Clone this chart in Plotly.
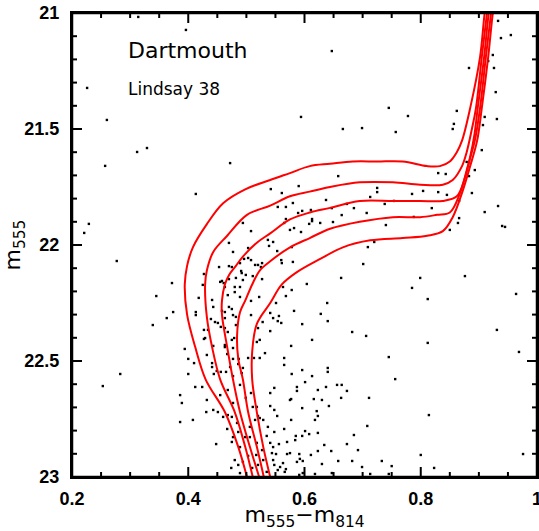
import plotly.graph_objects as go

# Isochrones (colour m555-m814, magnitude m555), main sequence -> turnoff -> SGB -> RGB
iso1_color = [0.501, 0.486, 0.463, 0.430, 0.412, 0.398, 0.394, 0.398, 0.408, 0.432, 0.460, 0.498,
              0.541, 0.575, 0.609, 0.644, 0.683, 0.725, 0.769, 0.811, 0.833, 0.850, 0.862, 0.871,
              0.885, 0.902, 0.910, 0.914]
iso1_mag = [23.00, 22.87, 22.72, 22.58, 22.44, 22.30, 22.17, 22.09, 22.01, 21.91, 21.82, 21.76,
            21.72, 21.69, 21.66, 21.65, 21.64, 21.64, 21.64, 21.66, 21.66, 21.64, 21.60, 21.55,
            21.41, 21.19, 21.00, 20.94]

iso2_color = [0.511, 0.498, 0.480, 0.455, 0.441, 0.432, 0.429, 0.432, 0.443, 0.467, 0.501, 0.541,
              0.575, 0.609, 0.644, 0.695, 0.752, 0.799, 0.838, 0.855, 0.871, 0.879, 0.888, 0.895,
              0.905, 0.914, 0.917]
iso2_mag = [23.00, 22.87, 22.72, 22.58, 22.44, 22.31, 22.17, 22.11, 22.03, 21.96, 21.87, 21.83,
            21.79, 21.77, 21.75, 21.73, 21.73, 21.74, 21.74, 21.72, 21.66, 21.60, 21.50, 21.41,
            21.19, 21.00, 20.94]

iso3_color = [0.522, 0.506, 0.489, 0.477, 0.467, 0.458, 0.458, 0.463, 0.470, 0.482, 0.494, 0.518,
              0.541, 0.575, 0.609, 0.644, 0.695, 0.752, 0.799, 0.838, 0.862, 0.876, 0.885, 0.892,
              0.898, 0.909, 0.917, 0.921]
iso3_mag = [23.00, 22.87, 22.72, 22.58, 22.44, 22.30, 22.24, 22.17, 22.13, 22.09, 22.05, 21.99,
            21.95, 21.89, 21.86, 21.84, 21.81, 21.81, 21.81, 21.81, 21.79, 21.71, 21.62, 21.53,
            21.41, 21.19, 21.00, 20.94]

iso4_color = [0.530, 0.518, 0.503, 0.494, 0.486, 0.484, 0.489, 0.498, 0.510, 0.523, 0.541, 0.575,
              0.609, 0.644, 0.695, 0.752, 0.799, 0.828, 0.850, 0.867, 0.881, 0.893, 0.902, 0.912,
              0.921, 0.924]
iso4_mag = [23.00, 22.87, 22.72, 22.58, 22.49, 22.39, 22.29, 22.24, 22.17, 22.11, 22.07, 22.01,
            21.97, 21.93, 21.90, 21.88, 21.88, 21.87, 21.86, 21.78, 21.66, 21.55, 21.41, 21.19,
            21.00, 20.94]

iso5_color = [0.541, 0.529, 0.518, 0.510, 0.510, 0.518, 0.541, 0.561, 0.585, 0.627, 0.666, 0.713,
              0.769, 0.811, 0.838, 0.855, 0.873, 0.885, 0.897, 0.905, 0.916, 0.924, 0.928]
iso5_mag = [23.00, 22.87, 22.72, 22.58, 22.46, 22.34, 22.25, 22.17, 22.12, 22.06, 22.01, 21.98,
            21.97, 21.96, 21.94, 21.88, 21.76, 21.66, 21.55, 21.41, 21.19, 21.00, 20.94]

isochrones = [(iso1_color, iso1_mag), (iso2_color, iso2_mag), (iso3_color, iso3_mag),
              (iso4_color, iso4_mag), (iso5_color, iso5_mag)]

# Photometry of Lindsay 38 stars
star_color = [
    0.314, 0.396, 0.226, 0.260, 0.312, 0.329, 0.257, 0.472, 0.413, 0.229, 0.221, 0.277, 0.345, 0.372,
    0.363, 0.339, 0.283, 0.253, 0.374, 0.394, 0.400, 0.410, 0.400, 0.412, 0.424, 0.386, 0.389, 0.408,
    0.431, 0.443, 0.448, 0.386,
    0.933, 0.955, 0.938, 0.647, 0.924, 0.916, 0.883, 0.926, 0.929, 0.745, 0.594, 0.778, 0.862, 0.910,
    0.931, 0.857, 0.666, 0.699, 0.757, 0.855, 0.907, 0.905, 0.893, 0.879, 0.658, 0.830, 0.843, 0.883,
    0.590, 0.725, 0.725, 0.713, 0.804, 0.785, 0.830, 0.845, 0.888, 0.866, 0.542, 0.561, 0.637, 0.580,
    0.554, 0.568, 0.611, 0.647, 0.673, 0.685, 0.738, 0.754, 0.819, 0.910, 0.933, 0.596, 0.589, 0.568,
    0.565, 0.613, 0.613, 0.664, 0.707, 0.788, 0.608, 0.627, 0.649, 0.740, 0.866, 0.864, 0.850, 0.940,
    0.945, 0.582, 0.575, 0.594, 0.546, 0.553, 0.578, 0.709, 0.720, 0.701, 0.560, 0.561, 0.580,
    0.494, 0.508, 0.470, 0.477, 0.537, 0.539, 0.503, 0.503, 0.508, 0.496, 0.489, 0.515, 0.520, 0.527,
    0.525, 0.453, 0.470, 0.475, 0.491, 0.492, 0.499, 0.482, 0.470, 0.427, 0.455, 0.458, 0.461, 0.494,
    0.511, 0.527,
    0.425, 0.418, 0.441, 0.443, 0.413, 0.413, 0.439, 0.446, 0.451, 0.434, 0.429, 0.432, 0.443, 0.441,
    0.441, 0.449, 0.444, 0.456, 0.465, 0.477, 0.468, 0.463, 0.480, 0.489, 0.470, 0.475, 0.458, 0.463,
    0.463, 0.477, 0.482, 0.456, 0.463, 0.468, 0.482, 0.463, 0.463, 0.475, 0.479, 0.477, 0.467, 0.477,
    0.487, 0.472, 0.486, 0.494, 0.492, 0.503, 0.513, 0.523, 0.532, 0.518, 0.523, 0.528, 0.520, 0.508,
    0.508, 0.522, 0.480, 0.489, 0.427, 0.427,
    0.663, 0.799, 0.876, 0.604, 0.785, 0.812, 0.964, 0.563, 0.578, 0.568, 0.551, 0.639, 0.582, 0.628,
    0.640, 0.541, 0.546, 0.556, 0.554, 0.560, 0.596, 0.541, 0.682, 0.706, 0.931, 0.613, 0.812, 0.969,
    0.577, 0.565, 0.565, 0.745, 0.596, 0.578, 0.613, 0.640, 0.640, 0.756, 0.601, 0.548, 0.541, 0.587,
    0.587, 0.577, 0.575, 0.623, 0.637, 0.656, 0.664, 0.673, 0.616, 0.630, 0.663, 0.711, 0.596, 0.541,
    0.548, 0.553, 0.642, 0.621, 0.623, 0.618, 0.577, 0.814, 0.548, 0.565, 0.708, 0.584, 0.585, 0.596,
    0.601, 0.608, 0.623, 0.541, 0.556, 0.546, 0.634, 0.673, 0.685, 0.692, 0.544, 0.551, 0.570, 0.575,
    0.591, 0.611, 0.623, 0.646, 0.800, 0.976, 0.587, 0.592, 0.597, 0.658, 0.682, 0.733, 0.548, 0.558,
    0.568, 0.630, 0.699, 0.750, 0.823, 0.554, 0.597, 0.618, 0.647, 0.713, 0.745, 0.591,
    0.460, 0.468, 0.484, 0.486, 0.498, 0.506, 0.515, 0.518, 0.520, 0.523, 0.529, 0.537, 0.535, 0.546,
    0.535, 0.517, 0.510, 0.503, 0.494, 0.489, 0.477, 0.467, 0.475, 0.518, 0.527, 0.520, 0.570, 0.563,
    0.566, 0.474, 0.486, 0.489, 0.480, 0.451, 0.475, 0.506, 0.511, 0.508, 0.529,
    0.455, 0.468, 0.489, 0.499, 0.477, 0.432,
]
star_mag = [
    21.017, 21.073, 21.323, 21.461, 21.599, 21.582, 21.659, 21.647, 21.780, 21.909, 21.948, 22.069,
    22.220, 22.164, 22.315, 22.345, 22.556, 22.608, 22.289, 22.448, 22.491, 22.509, 22.556, 22.612,
    22.612, 22.647, 22.681, 22.754, 22.720, 22.711, 22.858, 22.763,
    21.034, 21.095, 21.108, 21.164, 21.181, 21.207, 21.237, 21.237, 21.341, 21.409, 21.448, 21.444,
    21.422, 21.448, 21.457, 21.478, 21.500, 21.496, 21.513, 21.500, 21.483, 21.591, 21.677, 21.642,
    21.703, 21.690, 21.694, 21.703, 21.746, 21.754, 21.772, 21.793, 21.767, 21.780, 21.772, 21.784,
    21.776, 21.810, 21.759, 21.776, 21.806, 21.819, 21.836, 21.836, 21.849, 21.841, 21.823, 21.841,
    21.823, 21.810, 21.841, 21.858, 21.832, 21.853, 21.862, 21.888, 21.905, 21.888, 21.897, 21.871,
    21.862, 21.879, 21.909, 21.905, 21.901, 21.914, 21.884, 21.905, 21.935, 21.918, 21.922, 21.927,
    21.935, 21.944, 21.987, 22.026, 22.009, 22.009, 21.987, 22.082, 22.065, 22.078, 22.073,
    21.905, 21.940, 21.991, 22.030, 21.978, 22.004, 22.013, 22.056, 22.065, 22.060, 22.078, 22.086,
    22.086, 22.078, 22.095, 22.095, 22.091, 22.095, 22.112, 22.121, 22.129, 22.142, 22.147, 22.125,
    22.159, 22.155, 22.164, 22.151, 22.134, 22.147,
    22.172, 22.228, 22.237, 22.267, 22.289, 22.302, 22.319, 22.332, 22.336, 22.366, 22.401, 22.474,
    22.435, 22.509, 22.526, 22.543, 22.556, 22.547, 22.547, 22.565, 22.216, 22.181, 22.181, 22.181,
    22.267, 22.276, 22.284, 22.289, 22.315, 22.302, 22.310, 22.353, 22.358, 22.375, 22.345, 22.431,
    22.440, 22.409, 22.401, 22.444, 22.470, 22.491, 22.491, 22.526, 22.513, 22.530, 22.552, 22.487,
    22.487, 22.487, 22.466, 22.418, 22.409, 22.332, 22.358, 22.302, 22.241, 22.224, 22.203, 22.224,
    22.366, 22.405,
    22.142, 22.142, 22.134, 22.168, 22.185, 22.233, 22.211, 22.181, 22.194, 22.220, 22.250, 22.250,
    22.284, 22.297, 22.328, 22.293, 22.315, 22.306, 22.328, 22.336, 22.341, 22.371, 22.375, 22.392,
    22.366, 22.409, 22.422, 22.461, 22.435, 22.487, 22.517, 22.483, 22.539, 22.556, 22.565, 22.530,
    22.547, 22.578, 22.591, 22.616, 22.638, 22.612, 22.629, 22.664, 22.668, 22.625, 22.612, 22.603,
    22.603, 22.629, 22.664, 22.668, 22.659, 22.659, 22.703, 22.694, 22.711, 22.737, 22.694, 22.716,
    22.737, 22.754, 22.754, 22.733, 22.806, 22.793, 22.780, 22.841, 22.823, 22.823, 22.802, 22.815,
    22.810, 22.853, 22.858, 22.871, 22.862, 22.858, 22.819, 22.884, 22.897, 22.901, 22.901, 22.897,
    22.901, 22.905, 22.888, 22.888, 22.905, 22.901, 22.935, 22.922, 22.931, 22.931, 22.931, 22.931,
    22.948, 22.957, 22.966, 22.944, 22.957, 22.953, 22.961, 22.970, 22.983, 22.987, 22.983, 22.987,
    22.987, 22.991,
    22.741, 22.733, 22.767, 22.806, 22.828, 22.828, 22.754, 22.698, 22.737, 22.746, 22.754, 22.784,
    22.823, 22.927, 22.978, 22.905, 22.961, 22.909, 22.935, 22.871, 22.828, 22.793, 22.849, 22.853,
    22.884, 22.948, 22.849, 22.940, 22.978, 22.961, 22.948, 22.983, 22.927, 22.720, 22.741, 22.784,
    22.698, 22.638, 22.927,
    22.647, 22.625, 22.603, 22.659, 22.681, 22.668,
]

x_ticks = [0.2, 0.4, 0.6, 0.8, 1.0]
x_tick_text = ["0.2", "0.4", "0.6", "0.8", "1"]
x_minor_ticks = [0.25, 0.3, 0.35, 0.45, 0.5, 0.55, 0.65, 0.7, 0.75, 0.85, 0.9, 0.95]
y_ticks = [21, 21.5, 22, 22.5, 23]
y_tick_text = ["21", "21.5", "22", "22.5", "23"]
y_minor_ticks = [21.1, 21.2, 21.3, 21.4, 21.6, 21.7, 21.8, 21.9,
                 22.1, 22.2, 22.3, 22.4, 22.6, 22.7, 22.8, 22.9]

x_range = [0.2, 1.0]
y_range = [23, 21]

WIDTH, HEIGHT = 539, 531
MARGIN = dict(l=72, r=2, t=13, b=54)
MAJOR_LEN = 10   # pixels
MINOR_LEN = 5    # pixels

# Size of one screen pixel in axis units, for the inward tick marks
plot_w = WIDTH - MARGIN["l"] - MARGIN["r"]
plot_h = HEIGHT - MARGIN["t"] - MARGIN["b"]
dx_px = (x_range[1] - x_range[0]) / plot_w
dy_px = (y_range[0] - y_range[1]) / plot_h
x_lo, x_hi = x_range
y_bottom, y_top = y_range

fig = go.Figure()

fig.add_trace(go.Scatter(
    x=star_color, y=star_mag, mode="markers",
    marker=dict(symbol="square", size=2.4, color="black", line=dict(width=0)),
    hoverinfo="skip", showlegend=False,
))

for cx, my in isochrones:
    fig.add_trace(go.Scatter(
        x=cx, y=my, mode="lines",
        line=dict(color="#ff0000", width=2, shape="spline", smoothing=1.0),
        hoverinfo="skip", showlegend=False,
    ))

# Inward tick marks on all four sides
tick_x, tick_y = [], []
for vals, length in ((x_ticks, MAJOR_LEN), (x_minor_ticks, MINOR_LEN)):
    for v in vals:
        tick_x += [v, v, None, v, v, None]
        tick_y += [y_bottom, y_bottom - length * dy_px, None, y_top, y_top + length * dy_px, None]
for vals, length in ((y_ticks, MAJOR_LEN), (y_minor_ticks, MINOR_LEN)):
    for v in vals:
        tick_x += [x_lo, x_lo + length * dx_px, None, x_hi, x_hi - length * dx_px, None]
        tick_y += [v, v, None, v, v, None]
fig.add_trace(go.Scatter(
    x=tick_x, y=tick_y, mode="lines", line=dict(color="#000000", width=2),
    hoverinfo="skip", showlegend=False, cliponaxis=False,
))

# Plot frame
fig.add_trace(go.Scatter(
    x=[x_lo, x_hi, x_hi, x_lo, x_lo], y=[y_top, y_top, y_bottom, y_bottom, y_top],
    mode="lines", line=dict(color="#000000", width=2.5),
    hoverinfo="skip", showlegend=False, cliponaxis=False,
))

fig.add_annotation(x=0.293, y=21.16, xref="x", yref="y", text="Dartmouth",
                   showarrow=False, xanchor="left", yanchor="middle",
                   font=dict(family="DejaVu Sans", size=22, color="black"))
fig.add_annotation(x=0.293, y=21.328, xref="x", yref="y", text="Lindsay 38",
                   showarrow=False, xanchor="left", yanchor="middle",
                   font=dict(family="DejaVu Sans", size=17, color="black"))

tick_font = dict(family="Liberation Sans", size=18, color="#000000", weight="bold")

fig.update_layout(
    template="none",
    xaxis=dict(
        range=x_range, tickmode="array", tickvals=x_ticks, ticktext=x_tick_text,
        showgrid=False, zeroline=False, showline=True, linecolor="#000000", linewidth=2,
        mirror=True, ticks="", tickfont=tick_font, ticklabeloverflow="allow",
        ticklabelstandoff=4,
        title=dict(text="m<sub>555</sub>\u2212m<sub>814</sub>",
                   font=dict(family="DejaVu Sans", size=22, color="#000000"), standoff=2),
    ),
    yaxis=dict(
        range=y_range, tickmode="array", tickvals=y_ticks, ticktext=y_tick_text,
        showgrid=False, zeroline=False, showline=True, linecolor="#000000", linewidth=2,
        mirror=True, ticks="", tickfont=tick_font, ticklabeloverflow="allow",
        ticklabelstandoff=7,
        title=dict(text="m<sub>555</sub>",
                   font=dict(family="DejaVu Sans", size=22, color="#000000"), standoff=4),
    ),
    width=WIDTH, height=HEIGHT,
    margin=MARGIN,
    paper_bgcolor="#ffffff", plot_bgcolor="#ffffff",
)

fig.write_html("out.html")
